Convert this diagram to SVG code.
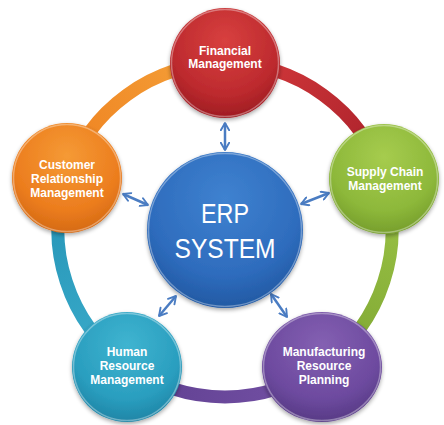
<svg xmlns="http://www.w3.org/2000/svg" width="444" height="425" viewBox="0 0 444 425">
  <defs>
    <style>
      .lbl { font-family: "Liberation Sans", Arial, sans-serif; font-weight: bold; font-size: 12px; fill: #ffffff; text-anchor: middle; }
      .big { font-family: "Liberation Sans", Arial, sans-serif; font-size: 28px; fill: #ffffff; text-anchor: middle; }
      .seg { fill: none; stroke-width: 13; }
      .arrow { fill: none; stroke: #4a7cc2; stroke-width: 2.5; marker-start: url(#head); marker-end: url(#head); }
      .rim { fill: none; stroke: #ffffff; stroke-opacity: 0.35; stroke-width: 1.5; }
    </style>
    <marker id="head" viewBox="0 0 10 10" refX="8" refY="5" markerWidth="4.2" markerHeight="4.2" orient="auto-start-reverse" markerUnits="strokeWidth">
      <path d="M1,1 L8,5 L1,9" fill="none" stroke="#4a7cc2" stroke-width="1.8" stroke-linecap="round" stroke-linejoin="round"/>
    </marker>
    <filter id="sh" x="-20%" y="-20%" width="140%" height="140%">
      <feGaussianBlur in="SourceAlpha" stdDeviation="2"/>
      <feOffset dx="0" dy="2" result="b"/>
      <feComponentTransfer><feFuncA type="linear" slope="0.35"/></feComponentTransfer>
      <feMerge><feMergeNode/><feMergeNode in="SourceGraphic"/></feMerge>
    </filter>
    <radialGradient id="gRed" cx="0.5" cy="0.3" r="0.7">
      <stop offset="0" stop-color="#d8403f"/>
      <stop offset="0.7" stop-color="#bd2a2e"/>
      <stop offset="1" stop-color="#9e1c22"/>
    </radialGradient>
    <radialGradient id="gGreen" cx="0.5" cy="0.3" r="0.7">
      <stop offset="0" stop-color="#a6cc4e"/>
      <stop offset="0.7" stop-color="#8db83a"/>
      <stop offset="1" stop-color="#769e2c"/>
    </radialGradient>
    <radialGradient id="gOrange" cx="0.5" cy="0.3" r="0.7">
      <stop offset="0" stop-color="#f59a35"/>
      <stop offset="0.7" stop-color="#ec7d1e"/>
      <stop offset="1" stop-color="#d56a14"/>
    </radialGradient>
    <radialGradient id="gCyan" cx="0.5" cy="0.3" r="0.7">
      <stop offset="0" stop-color="#3fb4d0"/>
      <stop offset="0.7" stop-color="#2a9ebf"/>
      <stop offset="1" stop-color="#1f85a6"/>
    </radialGradient>
    <radialGradient id="gPurple" cx="0.5" cy="0.3" r="0.7">
      <stop offset="0" stop-color="#8460b2"/>
      <stop offset="0.7" stop-color="#6d4a9f"/>
      <stop offset="1" stop-color="#573a85"/>
    </radialGradient>
    <radialGradient id="gBlue" cx="0.5" cy="0.3" r="0.7">
      <stop offset="0" stop-color="#3f82d0"/>
      <stop offset="0.7" stop-color="#2e6cbd"/>
      <stop offset="1" stop-color="#2259a3"/>
    </radialGradient>
    <linearGradient id="sRed" gradientUnits="userSpaceOnUse" x1="225" y1="63" x2="384" y2="178">
      <stop offset="0" stop-color="#d63a3c"/><stop offset="1" stop-color="#a8202a"/>
    </linearGradient>
    <linearGradient id="sGreen" gradientUnits="userSpaceOnUse" x1="384" y1="178" x2="323" y2="365">
      <stop offset="0" stop-color="#9cc447"/><stop offset="1" stop-color="#7ea632"/>
    </linearGradient>
    <linearGradient id="sPurple" gradientUnits="userSpaceOnUse" x1="323" y1="365" x2="127" y2="365">
      <stop offset="0" stop-color="#7552a6"/><stop offset="1" stop-color="#5f3f90"/>
    </linearGradient>
    <linearGradient id="sCyan" gradientUnits="userSpaceOnUse" x1="127" y1="365" x2="66" y2="178">
      <stop offset="0" stop-color="#3aaccb"/><stop offset="1" stop-color="#2593b5"/>
    </linearGradient>
    <linearGradient id="sOrange" gradientUnits="userSpaceOnUse" x1="66" y1="178" x2="225" y2="63">
      <stop offset="0" stop-color="#ee801f"/><stop offset="1" stop-color="#f5a23a"/>
    </linearGradient>
  </defs>

  <rect width="444" height="425" fill="#ffffff"/>

  <g id="connectors">
    <path class="seg" stroke="url(#sRed)" d="M225,63 A167,167 0 0 1 383.83,178.39"/>
    <path class="seg" stroke="url(#sGreen)" d="M383.83,178.39 A167,167 0 0 1 323.16,365.10"/>
    <path class="seg" stroke="url(#sPurple)" d="M323.16,365.10 A167,167 0 0 1 126.84,365.10"/>
    <path class="seg" stroke="url(#sCyan)" d="M126.84,365.10 A167,167 0 0 1 66.17,178.39"/>
    <path class="seg" stroke="url(#sOrange)" d="M66.17,178.39 A167,167 0 0 1 225,63"/>
    <line class="arrow" x1="225" y1="123" x2="225" y2="150"/>
    <line class="arrow" x1="123" y1="194" x2="148" y2="205"/>
    <line class="arrow" x1="301" y1="204" x2="329" y2="193"/>
    <line class="arrow" x1="176" y1="296" x2="159" y2="316"/>
    <line class="arrow" x1="271" y1="294" x2="287" y2="317"/>
  </g>

  <g id="erp">
    <circle cx="225" cy="230" r="78" fill="url(#gBlue)" filter="url(#sh)"/>
    <circle class="rim" cx="225" cy="230" r="76.5"/>
    <text class="big" x="225" y="223" textLength="48" lengthAdjust="spacingAndGlyphs">ERP</text>
    <text class="big" x="225" y="258" textLength="101" lengthAdjust="spacingAndGlyphs">SYSTEM</text>
  </g>

  <g id="financial">
    <circle cx="225" cy="63" r="55" fill="url(#gRed)" filter="url(#sh)"/>
    <circle class="rim" cx="225" cy="63" r="53.5"/>
    <text class="lbl" x="225" y="55">Financial</text>
    <text class="lbl" x="225" y="68">Management</text>
  </g>

  <g id="supply">
    <circle cx="384" cy="179" r="55" fill="url(#gGreen)" filter="url(#sh)"/>
    <circle class="rim" cx="384" cy="179" r="53.5"/>
    <text class="lbl" x="385" y="176">Supply Chain</text>
    <text class="lbl" x="385" y="190">Management</text>
  </g>

  <g id="manufacturing">
    <ellipse cx="322" cy="367" rx="60" ry="55" fill="url(#gPurple)" filter="url(#sh)"/>
    <ellipse class="rim" cx="322" cy="367" rx="58.5" ry="53.5"/>
    <text class="lbl" x="324" y="356">Manufacturing</text>
    <text class="lbl" x="324" y="370">Resource</text>
    <text class="lbl" x="324" y="384">Planning</text>
  </g>

  <g id="human">
    <circle cx="127" cy="367" r="55" fill="url(#gCyan)" filter="url(#sh)"/>
    <circle class="rim" cx="127" cy="367" r="53.5"/>
    <text class="lbl" x="127" y="356">Human</text>
    <text class="lbl" x="127" y="370">Resource</text>
    <text class="lbl" x="127" y="384">Management</text>
  </g>

  <g id="customer">
    <circle cx="67" cy="178" r="55" fill="url(#gOrange)" filter="url(#sh)"/>
    <circle class="rim" cx="67" cy="178" r="53.5"/>
    <text class="lbl" x="67" y="169">Customer</text>
    <text class="lbl" x="67" y="183">Relationship</text>
    <text class="lbl" x="67" y="197">Management</text>
  </g>
</svg>
